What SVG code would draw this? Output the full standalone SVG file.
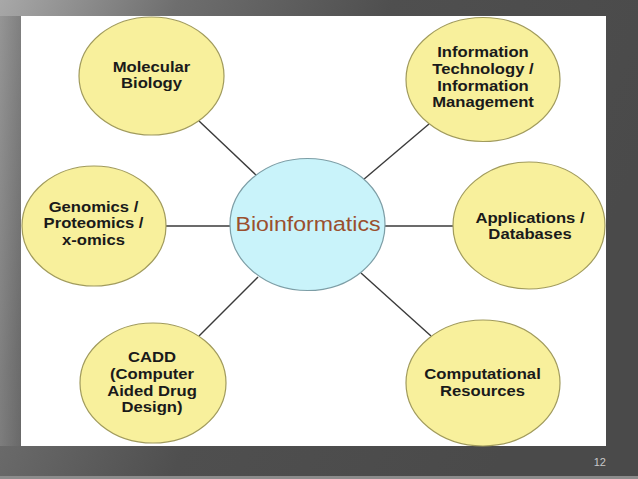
<svg xmlns="http://www.w3.org/2000/svg" width="638" height="479" viewBox="0 0 638 479">
<defs>
<linearGradient id="bg" x1="0" y1="0" x2="1" y2="0.35">
<stop offset="0" stop-color="#a8a8a8"/>
<stop offset="0.25" stop-color="#6e6e6e"/>
<stop offset="0.55" stop-color="#4f4f4f"/>
<stop offset="1" stop-color="#4a4a4a"/>
</linearGradient>
<linearGradient id="left" x1="0" y1="0" x2="1" y2="0">
<stop offset="0" stop-color="#8a8a8a"/>
<stop offset="1" stop-color="#6a6a6a"/>
</linearGradient>
<linearGradient id="yel" x1="0" y1="0" x2="0" y2="1">
<stop offset="0" stop-color="#f8f09a"/>
<stop offset="1" stop-color="#f6ee98"/>
</linearGradient>
<style>
.node{fill:#f8f09c;stroke:#a19b5c;stroke-width:1.2}
.hub{fill:#c9f3fa;stroke:#7d9ea6;stroke-width:1.2}
.lbl{font-family:"Liberation Sans",Arial,sans-serif;font-weight:bold;font-size:14px;fill:#1a1a1a;text-anchor:middle}
.hubt{font-family:"Liberation Sans",Arial,sans-serif;font-size:21px;fill:#9a4f2e;text-anchor:middle}
.conn line{stroke:#3a3a3a;stroke-width:1.4}
.pg{font-family:"Liberation Sans",Arial,sans-serif;font-size:11px;fill:#c8c8c8;text-anchor:end}
</style>
</defs>
<rect x="0" y="0" width="638" height="479" fill="url(#bg)"/>
<rect x="0" y="16" width="21" height="430" fill="url(#left)" opacity="0.6"/>
<rect x="0" y="476" width="638" height="3" fill="#8c8c8c"/>
<rect x="21" y="16" width="585" height="430" fill="#ffffff"/>

<g id="connectors" class="conn">
<line x1="199" y1="121" x2="257" y2="176"/>
<line x1="166" y1="226" x2="230" y2="226"/>
<line x1="429" y1="124" x2="363" y2="180"/>
<line x1="385" y1="226" x2="453" y2="226"/>
<line x1="199" y1="336" x2="258" y2="277"/>
<line x1="361" y1="273" x2="431" y2="336"/>
</g>

<g id="n-bioinformatics">
<ellipse class="hub" cx="307.5" cy="224.5" rx="77.5" ry="66"/>
<text class="hubt" x="0" y="231" transform="translate(308,0) scale(1.1,1)">Bioinformatics</text>
</g>

<g id="n-molecular">
<ellipse class="node" cx="151.5" cy="76" rx="72.5" ry="59"/>
<text class="lbl" transform="translate(151.5,0) scale(1.19,1)"><tspan x="0" y="71.7">Molecular</tspan><tspan x="0" y="88.3">Biology</tspan></text>
</g>

<g id="n-genomics">
<ellipse class="node" cx="94" cy="226" rx="72" ry="60"/>
<text class="lbl" transform="translate(93.5,0) scale(1.19,1)"><tspan x="0" y="211.7">Genomics /</tspan><tspan x="0" y="228.3">Proteomics /</tspan><tspan x="0" y="245">x-omics</tspan></text>
</g>

<g id="n-infotech">
<ellipse class="node" cx="483" cy="79.5" rx="77" ry="62"/>
<text class="lbl" transform="translate(483,0) scale(1.19,1)"><tspan x="0" y="57.5">Information</tspan><tspan x="0" y="74.2">Technology /</tspan><tspan x="0" y="90.8">Information</tspan><tspan x="0" y="107.5">Management</tspan></text>
</g>

<g id="n-applications">
<ellipse class="node" cx="529" cy="225.5" rx="76" ry="63.5"/>
<text class="lbl" transform="translate(530,0) scale(1.19,1)"><tspan x="0" y="222.7">Applications /</tspan><tspan x="0" y="239.3">Databases</tspan></text>
</g>

<g id="n-cadd">
<ellipse class="node" cx="153" cy="383" rx="73" ry="60"/>
<text class="lbl" transform="translate(152,0) scale(1.19,1)"><tspan x="0" y="362.3">CADD</tspan><tspan x="0" y="379">(Computer</tspan><tspan x="0" y="395.7">Aided Drug</tspan><tspan x="0" y="412.3">Design)</tspan></text>
</g>

<g id="n-computational">
<ellipse class="node" cx="483" cy="383" rx="77" ry="63"/>
<text class="lbl" transform="translate(482.5,0) scale(1.19,1)"><tspan x="0" y="379">Computational</tspan><tspan x="0" y="395.7">Resources</tspan></text>
</g>

<text class="pg" x="606" y="466">12</text>
</svg>
